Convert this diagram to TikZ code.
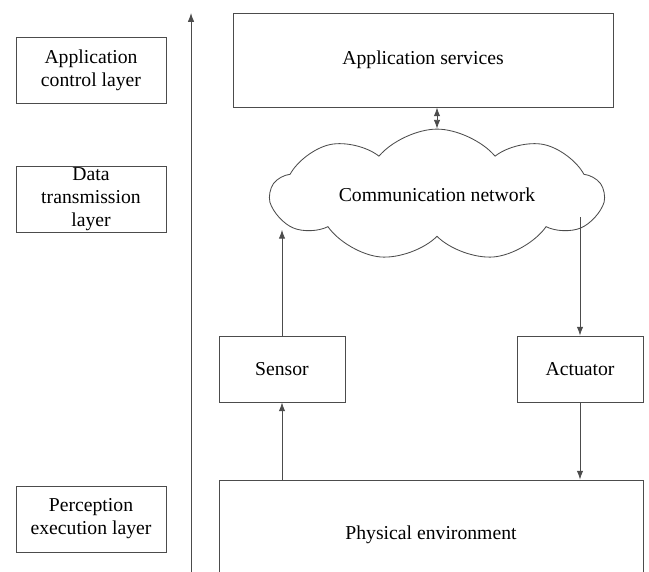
\documentclass[tikz,border=0pt]{standalone}
\usepackage{fontspec}
\setmainfont{Liberation Serif}
\usetikzlibrary{shapes.symbols,arrows.meta}

\begin{document}
\begin{tikzpicture}[x=0.025cm,y=-0.025cm,
    line width=0.6pt,
    font=\fontsize{14}{16.3}\selectfont,
    block/.style={draw=black!70,align=center,inner sep=0pt},
    layer/.style={block,minimum width=3.75cm,minimum height=1.65cm},
    link/.style={draw=black!70,-{Latex[length=2.2mm,width=1.6mm]}}]
    \useasboundingbox (0,0) rectangle (649,571);

    % Layer labels
    \node[layer] (ctrl)  at (91,70)  {Application\\control layer};
    \node[layer] (trans) at (91,199) {Data\\transmission\\layer};
    \node[layer] (perc)  at (91,519) {Perception\\execution layer};

    % Axis going up
    \coordinate (axisbot) at (191,580);
    \coordinate (axistop) at (191,13);
    \draw[link] (axisbot) -- (axistop);

    % Top block and network
    \node[block,minimum width=9.5cm,minimum height=2.35cm] (app) at (423,60) {Application services};
    \node[cloud,draw=black!70,cloud puffs=9,cloud puff arc=100,aspect=3.2,minimum width=8.3cm,minimum height=2.5cm] (net) at (437,195) {Communication network};

    % Sensor, actuator, environment
    \node[block,minimum width=3.15cm,minimum height=1.65cm] (sensor) at (282,369) {Sensor};
    \node[block,minimum width=3.15cm,minimum height=1.65cm] (actuator) at (580,369) {Actuator};
    \node[block,minimum width=10.6cm,minimum height=2.75cm] (phys) at (431,535) {Physical environment};

    % Connections
    \draw[link,{Latex[length=2.2mm,width=1.6mm]}-{Latex[length=2.2mm,width=1.6mm]}] (net.north |- app.south) -- (net.north);
    \draw[link] (sensor.north) -- (sensor.north |- net.194);
    \draw[link] (actuator.north |- net.352) -- (actuator.north);
    \draw[link] (sensor.south |- phys.north) -- (sensor.south);
    \draw[link] (actuator.south) -- (actuator.south |- phys.north);
\end{tikzpicture}
\end{document}
